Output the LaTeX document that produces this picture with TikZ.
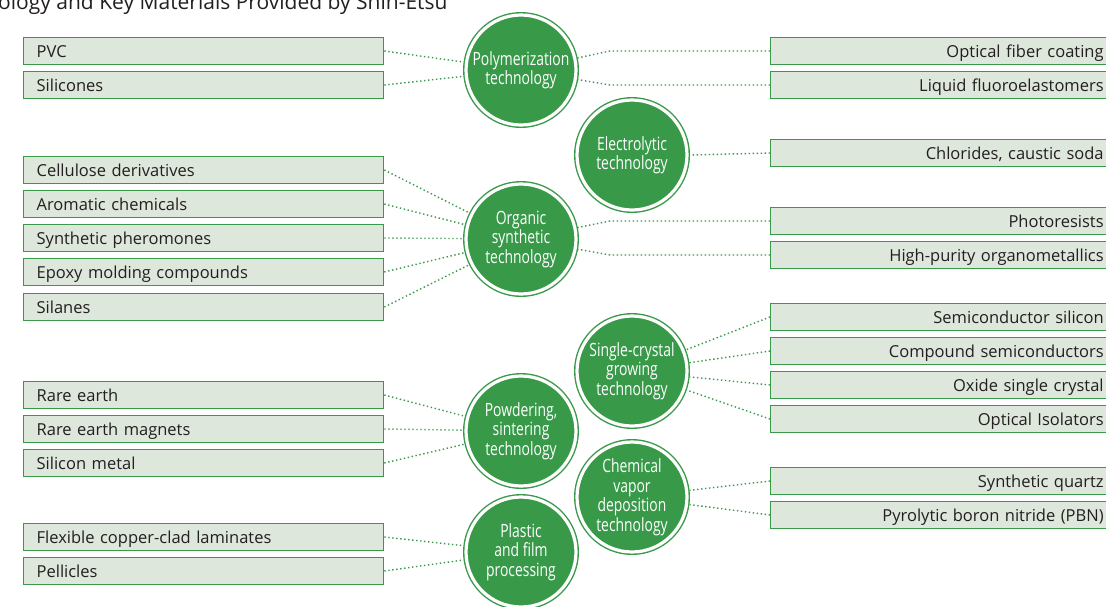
\documentclass[tikz,border=0pt]{standalone}
\usepackage{fontspec}
\setmainfont{Open Sans}
\newfontfamily\condfont[FakeStretch=0.76]{Open Sans}
\definecolor{cgreen}{RGB}{56,154,73}
\definecolor{boxfill}{RGB}{222,231,219}
\definecolor{txt}{RGB}{35,31,32}
\tikzset{
  techcircle/.style={circle, fill=cgreen, draw=cgreen, line width=1.4pt, double=white, double distance=3.2pt,
    minimum size=110pt, inner sep=0pt, outer sep=3pt, text=white, align=center,
    font=\condfont\fontsize{18.3}{19.5}\selectfont},
  lbox/.style={rectangle, fill=boxfill, draw=cgreen, line width=1.3pt, anchor=west,
    minimum width=360pt, minimum height=27.5pt, inner xsep=13pt, inner ysep=0pt,
    text width=334pt, align=left, text=txt, font=\fontsize{16.5}{19}\selectfont,
    text height=13pt, text depth=0pt},
  rbox/.style={lbox, minimum width=346pt, text width=320pt, align=right},
  conn/.style={cgreen, line width=1.4pt, dash pattern=on 1.4pt off 2.6pt}
}
\begin{document}
\begin{tikzpicture}[x=1pt,y=-1pt]
\useasboundingbox (0,0) rectangle (1106,606);
\fill[white] (0,0) rectangle (1106,606);
% title
\node[anchor=base west, inner sep=0pt, text=txt, font=\fontsize{21}{24}\selectfont] (title) at (-2,9.5) {ology and Key Materials Provided by Shin-Etsu};
% circles
\node[techcircle] (poly) at (521,70) {Polymerization\\technology};
\node[techcircle] (elec) at (632,155) {Electrolytic\\technology};
\node[techcircle] (org) at (521,239) {Organic\\synthetic\\technology};
\node[techcircle] (single) at (632,371) {Single-crystal\\growing\\technology};
\node[techcircle] (powd) at (521,431) {Powdering,\\sintering\\technology};
\node[techcircle] (cvd) at (632,497) {Chemical\\vapor\\deposition\\technology};
\node[techcircle] (plast) at (521,552) {Plastic\\and film\\processing};
% left boxes
\node[lbox] (pvc) at (23,51) {PVC};
\node[lbox] (silic) at (23,85) {Silicones};
\node[lbox] (cell) at (23,170) {Cellulose derivatives};
\node[lbox] (arom) at (23,204) {Aromatic chemicals};
\node[lbox] (pher) at (23,238) {Synthetic pheromones};
\node[lbox] (epoxy) at (23,272) {Epoxy molding compounds};
\node[lbox] (silan) at (23,307) {Silanes};
\node[lbox] (rare) at (23,395) {Rare earth};
\node[lbox] (magn) at (23,429) {Rare earth magnets};
\node[lbox] (simet) at (23,463) {Silicon metal};
\node[lbox] (flex) at (23,537) {Flexible copper-clad laminates};
\node[lbox] (pell) at (23,571) {Pellicles};
% right boxes
\node[rbox] (ofc) at (770,51) {Optical fiber coating};
\node[rbox] (lfe) at (770,85) {Liquid fluoroelastomers};
\node[rbox] (chl) at (770,153) {Chlorides, caustic soda};
\node[rbox] (photo) at (770,221) {Photoresists};
\node[rbox] (hpo) at (770,255) {High-purity organometallics};
\node[rbox] (semi) at (770,317) {Semiconductor silicon};
\node[rbox] (comp) at (770,351) {Compound semiconductors};
\node[rbox] (oxide) at (770,385) {Oxide single crystal};
\node[rbox] (oiso) at (770,419) {Optical Isolators};
\node[rbox] (quartz) at (770,481) {Synthetic quartz};
\node[rbox] (pbn) at (770,515) {Pyrolytic boron nitride (PBN)};
% waypoints
\coordinate (w1) at (610,51);
\coordinate (w2) at (610,85);
\coordinate (w3) at (610,221);
\coordinate (w4) at (610,255);
% left connectors
\foreach \b/\c in {pvc/poly, silic/poly, cell/org, arom/org, pher/org, epoxy/org, silan/org,
  rare/powd, magn/powd, simet/powd, flex/plast, pell/plast}
  \draw[conn] (\b.east) -- (\c);
% right connectors
\draw[conn] (ofc.west) -- (w1) -- (poly);
\draw[conn] (lfe.west) -- (w2) -- (poly);
\draw[conn] (photo.west) -- (w3) -- (org);
\draw[conn] (hpo.west) -- (w4) -- (org);
\draw[conn] (chl.west) -- (elec.east);
\foreach \b in {semi, comp, oxide, oiso}
  \draw[conn] (\b.west) -- (single);
\foreach \b in {quartz, pbn}
  \draw[conn] (\b.west) -- (cvd);
\end{tikzpicture}
\end{document}
